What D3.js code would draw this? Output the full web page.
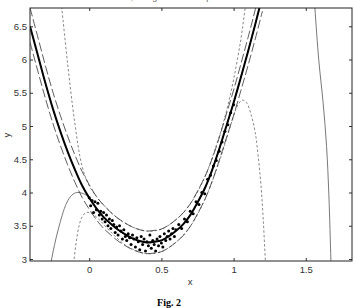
<!DOCTYPE html>
<html>
<head>
<meta charset="utf-8">
<script src="https://d3js.org/d3.v7.min.js"></script>
<style>
body { margin: 0; background: #fff; }
text { font-family: "Liberation Sans", Arial, sans-serif; }
.fig { font-family: "Liberation Serif", "Times New Roman", serif; font-weight: bold; }
</style>
</head>
<body>
<svg id="chart" width="355" height="308"></svg>
<script>
// tick values
var xTicks = [0, 0.5, 1, 1.5];
var yTicks = [3, 3.5, 4, 4.5, 5, 5.5, 6, 6.5];

// fitted curve (thick) and prediction band
var fitX = [-0.41,-0.35,-0.3,-0.25,-0.2,-0.15,-0.1,-0.05,0,0.05,0.1,0.15,0.2,0.25,0.3,0.35,0.4,0.45,0.5,0.55,0.6,0.65,0.7,0.75,0.8,0.85,0.9,0.95,1,1.05,1.1,1.15,1.2];
var fitY = [6.50,6.02,5.62,5.25,4.92,4.62,4.35,4.11,3.92,3.76,3.63,3.53,3.44,3.37,3.31,3.27,3.25,3.26,3.28,3.34,3.42,3.52,3.66,3.85,4.06,4.33,4.65,5.00,5.35,5.73,6.12,6.53,6.96];
var upperY = [6.78,6.29,5.88,5.50,5.16,4.85,4.57,4.32,4.12,3.94,3.81,3.70,3.61,3.54,3.48,3.44,3.42,3.43,3.45,3.51,3.59,3.69,3.83,4.02,4.23,4.50,4.82,5.18,5.54,5.93,6.33,6.75,7.19];
var lowerY = [6.26,5.78,5.39,5.03,4.71,4.42,4.16,3.93,3.75,3.59,3.46,3.36,3.27,3.20,3.14,3.10,3.08,3.09,3.11,3.17,3.25,3.35,3.49,3.68,3.89,4.16,4.48,4.82,5.16,5.53,5.91,6.31,6.73];

// high degree fit (thin solid) and its band (short dashes)
var hiX = [-0.28,-0.26,-0.215,-0.157,-0.12,-0.087,-0.05,-0.02,0.01,0.05,0.1,0.2,0.3,0.4,0.5,0.6,0.7,0.8,0.9,1,1.1,1.2,1.3,1.45,1.55,1.563,1.59,1.62,1.644,1.66,1.674,1.68];
var hiY = [2.7,3.0,3.44,3.84,3.96,4.0,3.99,3.96,3.89,3.77,3.63,3.44,3.31,3.25,3.28,3.42,3.66,4.06,4.65,5.35,6.12,6.96,8.0,8.4,7.2,6.775,5.99,5.35,4.69,3.95,2.98,2.6];
var hiUpX = [-0.2,-0.19,-0.15,-0.1,-0.05,0,0.05,0.1,0.2,0.3,0.4,0.5,0.6,0.7,0.8,0.9,0.95,1,1.05,1.078,1.1];
var hiUpY = [7.0,6.78,5.95,5.05,4.40,4.10,3.94,3.81,3.61,3.48,3.42,3.45,3.59,3.83,4.23,4.84,5.22,5.70,6.30,6.74,7.1];
var hiLoX = [-0.115,-0.106,-0.09,-0.07,-0.05,-0.02,0.02,0.07,0.13,0.19,0.25,0.3,0.4,0.5,0.6,0.7,0.8,0.9,0.95,1,1.03,1.06,1.09,1.12,1.15,1.17,1.19,1.205,1.22,1.23];
var hiLoY = [2.8,2.97,3.25,3.5,3.63,3.70,3.68,3.59,3.45,3.32,3.21,3.15,3.08,3.11,3.25,3.49,3.89,4.46,4.80,5.15,5.32,5.39,5.35,5.18,4.90,4.55,4.10,3.6,2.98,2.6];

// measured points
var ptX = [0.00,0.01,0.02,0.03,0.04,0.05,0.06,0.07,0.08,0.09,0.10,0.11,0.12,0.13,0.14,0.15,0.16,0.17,0.18,0.19,0.20,0.21,0.22,0.23,0.24,0.25,0.26,0.27,0.28,0.29,0.30,0.31,0.32,0.33,0.34,0.35,0.36,0.37,0.38,0.39,0.40,0.41,0.42,0.43,0.44,0.45,0.46,0.47,0.48,0.49,0.50,0.51,0.52,0.53,0.54,0.55,0.56,0.57,0.58,0.59,0.60,0.62,0.64,0.66,0.68,0.70,0.72,0.74,0.76,0.78,0.80,0.82,0.84,0.86,0.88,0.90,0.92,0.94,0.96,0.98,1.00];
var ptY = [3.92,3.80,3.88,3.70,3.86,3.74,3.84,3.66,3.72,3.60,3.70,3.56,3.66,3.50,3.60,3.46,3.58,3.52,3.40,3.48,3.36,3.50,3.42,3.30,3.44,3.34,3.28,3.38,3.32,3.22,3.36,3.30,3.18,3.32,3.26,3.14,3.34,3.22,3.30,3.12,3.26,3.20,3.36,3.16,3.28,3.22,3.12,3.30,3.20,3.34,3.24,3.18,3.38,3.28,3.34,3.42,3.30,3.38,3.46,3.34,3.44,3.52,3.46,3.60,3.56,3.72,3.68,3.86,3.82,4.00,3.98,4.20,4.26,4.40,4.48,4.62,4.76,4.92,5.02,5.20,5.32];

var svg = d3.select("#chart");
var pLeft = 30, pRight = 352, pTop = 8, pBottom = 261;

var x = d3.scaleLinear().domain([-0.41, 1.82]).range([pLeft, pRight]);
var y = d3.scaleLinear().domain([2.97, 6.775]).range([pBottom, pTop]);

// title, mostly cut off at the top edge as in the scan
svg.append("text")
  .attr("x", 192).attr("y", -0.5)
  .attr("text-anchor", "middle")
  .style("font-size", "9px").attr("fill", "#666")
  .text("Data, fitting curves and prediction bands");

svg.append("clipPath").attr("id", "clip")
  .append("rect").attr("x", pLeft).attr("y", pTop)
  .attr("width", pRight - pLeft).attr("height", pBottom - pTop);

var plot = svg.append("g").attr("clip-path", "url(#clip)");

var line = d3.line()
  .x(function(d) { return x(d[0]); })
  .y(function(d) { return y(d[1]); })
  .curve(d3.curveCatmullRom.alpha(0.5));

function pairs(xs, ys) { return xs.map(function(v, i) { return [v, ys[i]]; }); }

// thin solid
plot.append("path").attr("d", line(pairs(hiX, hiY)))
  .attr("fill", "none").attr("stroke", "#555").attr("stroke-width", 0.8);
// short dashes
[pairs(hiUpX, hiUpY), pairs(hiLoX, hiLoY)].forEach(function(p) {
  plot.append("path").attr("d", line(p))
    .attr("fill", "none").attr("stroke", "#555").attr("stroke-width", 0.7)
    .attr("stroke-dasharray", "2.5,2");
});
// long dashes
[pairs(fitX, upperY), pairs(fitX, lowerY)].forEach(function(p) {
  plot.append("path").attr("d", line(p))
    .attr("fill", "none").attr("stroke", "#333").attr("stroke-width", 0.8)
    .attr("stroke-dasharray", "9,3");
});
// thick fit
plot.append("path").attr("d", line(pairs(fitX, fitY)))
  .attr("fill", "none").attr("stroke", "#000").attr("stroke-width", 2);

// points
plot.selectAll("circle").data(pairs(ptX, ptY)).enter().append("circle")
  .attr("cx", function(d) { return x(d[0]); })
  .attr("cy", function(d) { return y(d[1]); })
  .attr("r", 1.5).attr("fill", "#000");

// axes with inward ticks
var fmt = function(d) { return String(d); };
var gl = svg.append("g").attr("transform", "translate(" + pLeft + ",0)")
  .call(d3.axisLeft(y).tickValues(yTicks).tickFormat(fmt).tickSizeInner(-3).tickSizeOuter(0).tickPadding(3));
var gb = svg.append("g").attr("transform", "translate(0," + pBottom + ")")
  .call(d3.axisBottom(x).tickValues(xTicks).tickFormat(fmt).tickSizeInner(-3).tickSizeOuter(0).tickPadding(5));
var gr = svg.append("g").attr("transform", "translate(" + pRight + ",0)")
  .call(d3.axisRight(y).tickValues(yTicks).tickSizeInner(-3).tickSizeOuter(0).tickFormat(""));
var gt = svg.append("g").attr("transform", "translate(0," + pTop + ")")
  .call(d3.axisTop(x).tickValues(xTicks).tickSizeInner(-3).tickSizeOuter(0).tickFormat(""));

[gl, gb, gr, gt].forEach(function(g) {
  g.select(".domain").remove();
  g.selectAll("line").attr("stroke", "#333");
  g.selectAll("text").style("font-size", "9.5px").attr("fill", "#333")
    .style("font-family", "'Liberation Sans', Arial, sans-serif");
});

svg.append("rect").attr("x", pLeft).attr("y", pTop)
  .attr("width", pRight - pLeft).attr("height", pBottom - pTop)
  .attr("fill", "none").attr("stroke", "#222").attr("stroke-width", 1);

// axis labels
svg.append("text").attr("x", 190).attr("y", 285)
  .attr("text-anchor", "middle").style("font-size", "9.5px").attr("fill", "#333").text("x");
svg.append("text").attr("transform", "translate(10,135) rotate(-90)")
  .attr("text-anchor", "middle").style("font-size", "9.5px").attr("fill", "#333").text("y");

svg.append("text").attr("class", "fig").attr("x", 169).attr("y", 306)
  .attr("text-anchor", "middle").style("font-size", "10px").attr("fill", "#000").text("Fig. 2");
</script>
</body>
</html>
